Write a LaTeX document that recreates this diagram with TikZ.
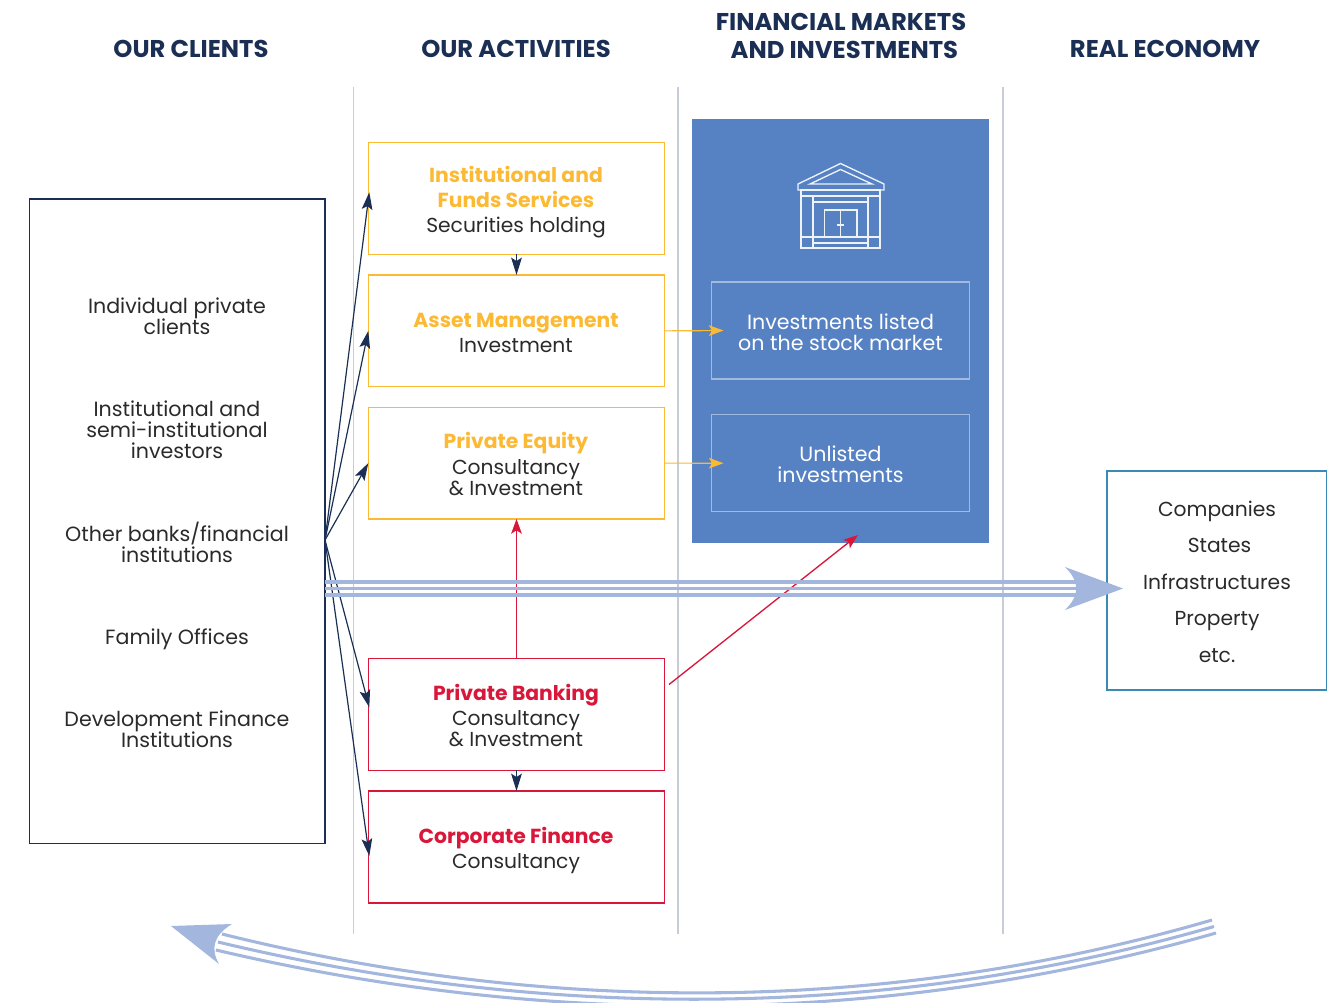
\documentclass[tikz,border=0pt]{standalone}
\usepackage{fontspec}
\setmainfont{Poppins}
\usetikzlibrary{arrows.meta,calc}
\definecolor{navy}{HTML}{1B2F55}
\definecolor{ink}{HTML}{2A2A2A}
\definecolor{gold}{HTML}{FBB934}
\definecolor{crim}{HTML}{D9173A}
\definecolor{panel}{HTML}{5682C4}
\definecolor{flow}{HTML}{A3B6DE}
\definecolor{sep}{HTML}{C8CCD6}
\definecolor{teal}{HTML}{3B8AB5}
\newcommand{\bodyfs}{\fontsize{15.45}{15.8}\selectfont}
\newcommand{\actfs}{\fontsize{15.2}{15.8}\selectfont}
\newcommand{\headfs}{\fontsize{18.2}{20.6}\selectfont\bfseries}
\newcommand{\boldfs}{\fontsize{15.25}{15.8}\selectfont\bfseries}
\tikzset{
  pxbox/.style={draw,line width=.85pt,inner sep=0},
  head/.style={text=navy,font=\headfs,align=center,inner sep=0},
  txt/.style={text=ink,font=\bodyfs,align=center,inner sep=0},
  atxt/.style={text=ink,font=\actfs,align=center,inner sep=0},
  wtxt/.style={text=white,font=\bodyfs,align=center,inner sep=0},
  sepline/.style={sep,line width=1.1pt},
  dk/.style={navy,line width=.9pt,-{Stealth[length=13pt,width=8pt,inset=2.5pt]}},
  yl/.style={gold,line width=.9pt,-{Stealth[length=11pt,width=8pt,inset=2.5pt]}},
  rd/.style={crim,line width=1pt,-{Stealth[length=11pt,width=8pt,inset=2.5pt]}},
  fl/.style={flow,line width=2.3pt},
  ic/.style={white!90!panel,line width=1pt},
}
\begin{document}
\begin{tikzpicture}[x=.75pt,y=-.75pt]
\useasboundingbox (0,0) rectangle (1339,1003);
% separators
\foreach \n/\x in {sa/353.7,sb/678,sc/1003}{
  \coordinate (\n t) at (\x,87); \coordinate (\n b) at (\x,934);
  \draw[sepline] (\n t) -- (\n b);}
% headings
\node[head] (h1) at (191,49) {OUR CLIENTS};
\node[head] (h2) at (516,49) {OUR ACTIVITIES};
\node[head] (h3) at (841,36) {FINANCIAL MARKETS\\\hspace*{5pt}AND INVESTMENTS};
\node[head] (h4) at (1165,49) {REAL ECONOMY};
% panel
\fill[panel] (692,119) rectangle (989,543);
% boxes
\newcommand{\pbox}[6]{\draw[pxbox,#6] (#2,#3) rectangle (#4,#5);
  \coordinate (#1 west) at (#2,{(#3+#5)/2});
  \coordinate (#1 east) at (#4,{(#3+#5)/2});
  \coordinate (#1 top) at (516.5,#3);
  \coordinate (#1 bot) at (516.5,#5);}
\pbox{clients}{29.3}{199}{325}{843.7}{navy}
\pbox{inst}{368.3}{142.3}{664.3}{254.2}{gold}
\pbox{asset}{368.3}{275}{664.3}{386.8}{gold}
\pbox{pe}{368.3}{407.2}{664.3}{519}{gold}
\pbox{pb}{368.3}{658.3}{664.3}{770.3}{crim}
\pbox{cf}{368.3}{791}{664.3}{903}{crim}
\pbox{list}{711.5}{282}{969.7}{379}{white!45!panel}
\pbox{unl}{711.5}{414.7}{969.7}{511.7}{white!45!panel}
\pbox{real}{1107}{471}{1326.7}{690}{teal}
% client texts
\node[txt] (c1) at (177,316) {Individual private\\clients};
\node[txt] (c2) at (177,429.5) {Institutional and\\semi-institutional\\investors};
\node[txt] (c3) at (177,542) {Other banks/financial\\institutions};
\node[txt] (c4) at (177,639) {Family Offices};
\node[txt] (c5) at (177,729) {Development Finance\\Institutions};
% activity texts
\node[atxt] (t1) at (516,202) {\textcolor{gold}{\boldfs Institutional and}\\[3pt]\textcolor{gold}{\boldfs Funds Services}\\[3pt]Securities holding};
\node[atxt] (t2) at (516,333) {\textcolor{gold}{\boldfs Asset Management}\\[3pt]Investment};
\node[atxt] (t3) at (516,464) {\textcolor{gold}{\boldfs Private Equity}\\[4pt]Consultancy\\\&~Investment};
\node[atxt] (t4) at (516,715.5) {\textcolor{crim}{\boldfs Private Banking}\\[3pt]Consultancy\\\&~Investment};
\node[atxt] (t5) at (516,850.5) {\textcolor{crim}{\boldfs Corporate Finance}\\[3pt]Consultancy};
% panel texts
\node[wtxt] (p1) at (840.5,332) {Investments listed\\on the stock market};
\node[wtxt] (p2) at (840.5,464.5) {Unlisted\\investments};
% real economy texts
\node[atxt,anchor=base] (r1) at (1217,516.5) {Companies};
\node[atxt,anchor=base] (r2) at (1219.5,552) {States};
\node[atxt,anchor=base] (r3) at (1217,589.5) {Infrastructures};
\node[atxt,anchor=base] (r4) at (1217,625) {Property};
\node[atxt,anchor=base] (r5) at (1217,662.5) {etc.};
% building icon
\draw[ic,line join=miter] (798,190) -- (798,184) -- (840.5,163.5) -- (884,184) -- (884,190) -- cycle;
\draw[ic] (810,184) -- (840.5,169.5) -- (872,184) -- cycle;
\draw[ic] (801,190) rectangle (880,248);
\draw[ic] (801,196) -- (880,196) (813,196) -- (813,248) (868,196) -- (868,248);
\draw[ic] (813,202) -- (868,202) (801,237) -- (880,237) (813,243) -- (868,243);
\draw[ic] (824.5,210) rectangle (857,237) (840.5,210) -- (840.5,237) (837,225) -- (844,225);
% client arrows
\coordinate (hub) at (325,540);
\draw[dk] (hub) -- ($(inst west)+(1,-6)$);
\draw[dk] (hub) -- (asset west);
\draw[dk] (hub) -- (pe west);
\draw[dk] (hub) -- ($(pb west)+(1,-7)$);
\draw[dk] (hub) -- ($(cf west)+(1,9)$);
% between boxes
\draw[dk] (inst bot) -- (asset top);
\draw[dk] (pb bot) -- (cf top);
\draw[rd] (pb top) -- (pe bot);
\draw[yl] (asset east) -- ($(list west)+(12,0)$);
\draw[yl] (pe east) -- ($(unl west)+(12,0)$);
\coordinate (redstart) at (669,684.5);
\coordinate (redend) at (858,535);
\draw[rd] (redstart) -- (redend);
% straight flow
\coordinate (fa) at (325,582); \coordinate (fb) at (1080,582);
\coordinate (fc) at (325,588.5); \coordinate (fd) at (1080,588.5);
\coordinate (fe) at (325,595); \coordinate (ff) at (1080,595);
\draw[fl] (fa) -- (fb);
\draw[fl] (fc) -- (fd);
\draw[fl] (fe) -- (ff);
\fill[flow] (1123,588.5) -- (1065,567) .. controls (1080,582) and (1080,595) .. (1065,610) -- cycle;
% curved flow
\coordinate (ga) at (1212,920); \coordinate (gb) at (222,934);
\coordinate (gc) at (1214,926.5); \coordinate (gd) at (218,942);
\coordinate (ge) at (1216,933); \coordinate (gf) at (216,950);
\draw[fl] (ga) .. controls (900,1011) and (560,1018) .. (gb);
\draw[fl] (gc) .. controls (900,1017) and (560,1024) .. (gd);
\draw[fl] (ge) .. controls (900,1023) and (560,1031) .. (gf);
\fill[flow] (171,926) -- (232,924) .. controls (214,935) and (210,948) .. (219,964) -- cycle;
\end{tikzpicture}
\end{document}
